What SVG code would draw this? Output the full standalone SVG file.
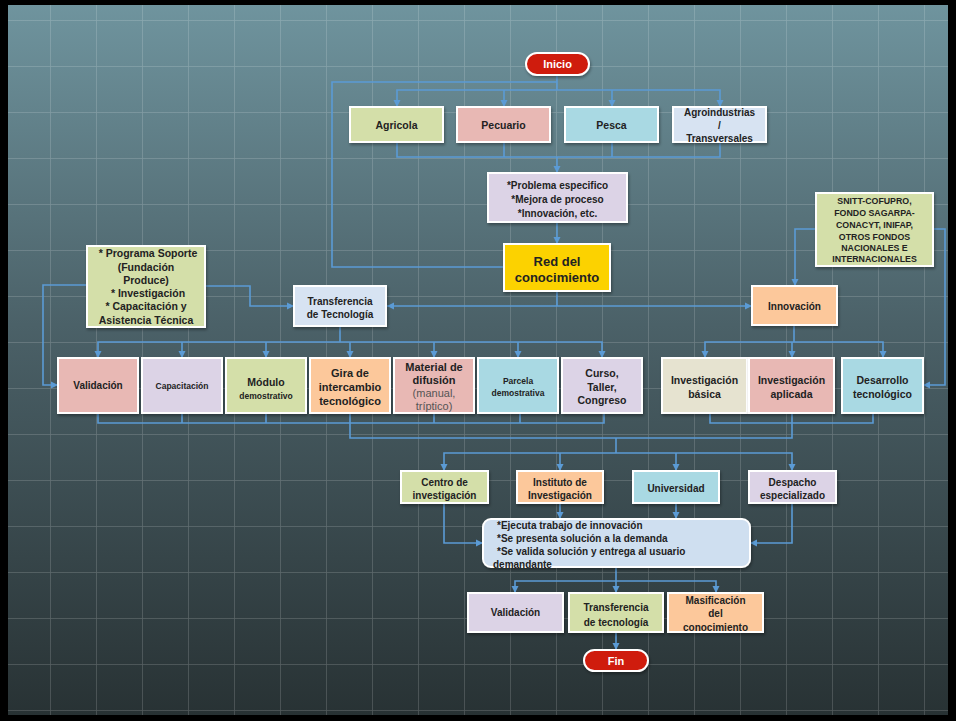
<svg xmlns="http://www.w3.org/2000/svg" width="956" height="721" viewBox="0 0 956 721">
<defs>
<linearGradient id="bg" x1="0" y1="0" x2="0" y2="1">
<stop offset="0" stop-color="#6f949e"/>
<stop offset="0.45" stop-color="#4b6168"/>
<stop offset="1" stop-color="#283234"/>
</linearGradient>
<pattern id="grid" x="4" y="20" width="46" height="46" patternUnits="userSpaceOnUse">
<path d="M0,0 H46 M0,0 V46" fill="none" stroke="#ffffff" stroke-opacity="0.2" stroke-width="1.5"/>
</pattern>
<marker id="arr" markerWidth="8" markerHeight="8" refX="7" refY="4" orient="auto" markerUnits="userSpaceOnUse">
<path d="M0,0.5 L7,4 L0,7.5 z" fill="#5b9bd5"/>
</marker>
<filter id="sh" x="-10%" y="-10%" width="130%" height="140%">
<feDropShadow dx="1" dy="2" stdDeviation="1.5" flood-color="#000" flood-opacity="0.35"/>
</filter>
</defs>
<style>
.box{stroke:#ffffff;stroke-width:2;filter:url(#sh)}
.t{font-family:"Liberation Sans",Arial,sans-serif;font-weight:bold;fill:#222;text-anchor:middle}
.r{font-weight:normal;fill:#555}
.w{fill:#ffffff}
.c{fill:none;stroke:#5b9bd5;stroke-width:1.6}
.a{marker-end:url(#arr)}
.green{fill:#d4dfa9}.pink{fill:#e8b8b4}.cyan{fill:#a9d9e3}.lav{fill:#dcd3e6}.blue{fill:#d7e3f2}.peach{fill:#fcc89b}.beige{fill:#e6e3d0}.gold{fill:#fcd200}.red{fill:#cf1a0f}
</style>
<rect x="0" y="0" width="956" height="721" fill="#000"/>
<rect x="8" y="5" width="940" height="710" fill="url(#bg)"/>
<rect x="8" y="5" width="940" height="710" fill="url(#grid)"/>

<g id="connectors">
<path class="c" d="M557,75 V90"/>
<path class="c" d="M504,267 H332 V82 H557"/>
<path class="c a" d="M557,90 H397 V107"/>
<path class="c a" d="M557,90 H720 V107"/>
<path class="c a" d="M504,90 V107"/>
<path class="c a" d="M612,90 V107"/>
<path class="c" d="M397,141 V157 H720 V141 M504,141 V157 M612,141 V157"/>
<path class="c a" d="M557,157 V173"/>
<path class="c a" d="M557,222 V244"/>
<path class="c" d="M557,291 V306"/>
<path class="c a" d="M557,306 H387"/>
<path class="c a" d="M557,306 H752"/>
<path class="c a" d="M205,286 H250 V306 H294"/>
<path class="c a" d="M87,285 H43 V385 H58"/>
<path class="c" d="M340,326 V342"/>
<path class="c a" d="M340,342 H98 V358"/>
<path class="c a" d="M340,342 H602 V358"/>
<path class="c a" d="M182,342 V358"/>
<path class="c a" d="M266,342 V358"/>
<path class="c a" d="M350,342 V358"/>
<path class="c a" d="M434,342 V358"/>
<path class="c a" d="M518,342 V358"/>
<path class="c a" d="M816,229 H795 V286"/>
<path class="c a" d="M933,229 H945 V385 H923"/>
<path class="c" d="M794,325 V342"/>
<path class="c a" d="M794,342 H705 V358"/>
<path class="c a" d="M794,342 H883 V358"/>
<path class="c a" d="M792,342 V358"/>
<path class="c" d="M98,413 V423 H604 V413 M182,413 V423 M266,413 V423 M434,413 V423 M520,413 V423"/>
<path class="c" d="M350,413 V438 H792 V413"/>
<path class="c" d="M710,413 V423 H873 V413"/>
<path class="c" d="M616,438 V453"/>
<path class="c a" d="M616,453 H444 V471"/>
<path class="c a" d="M616,453 H792 V471"/>
<path class="c a" d="M560,453 V471"/>
<path class="c a" d="M676,453 V471"/>
<path class="c a" d="M444,503 V543 H483"/>
<path class="c a" d="M560,503 V519"/>
<path class="c a" d="M676,503 V519"/>
<path class="c a" d="M792,503 V543 H750"/>
<path class="c" d="M616,567 V581"/>
<path class="c a" d="M616,581 H515 V593"/>
<path class="c a" d="M616,581 H716 V593"/>
<path class="c a" d="M616,581 V593"/>
<path class="c a" d="M616,632 V650"/>
</g>

<g id="inicio"><rect class="box red" x="526" y="53" width="63" height="22" rx="11"/><text class="t w" x="557.5" y="67.5" font-size="11">Inicio</text></g>

<g id="agricola"><rect class="box green" x="350" y="107" width="93" height="35"/><text class="t" x="396.5" y="128.5" font-size="10.5">Agricola</text></g>
<g id="pecuario"><rect class="box pink" x="457" y="107" width="93" height="35"/><text class="t" x="503.5" y="128.5" font-size="10.5">Pecuario</text></g>
<g id="pesca"><rect class="box cyan" x="565" y="107" width="93" height="35"/><text class="t" x="611.5" y="128.5" font-size="10.5">Pesca</text></g>
<g id="agroindustrias"><rect class="box blue" x="673" y="107" width="93" height="35"/><text class="t" x="719.5" font-size="10"><tspan x="719.5" y="115.5">Agroindustrias</tspan><tspan x="719.5" y="128.5">/</tspan><tspan x="719.5" y="141.5">Transversales</tspan></text></g>

<g id="problema"><rect class="box lav" x="488" y="173" width="139" height="49"/><text class="t" font-size="10"><tspan x="557.5" y="188.5">*Problema especifico</tspan><tspan x="557.5" y="203">*Mejora de proceso</tspan><tspan x="557.5" y="216.5">*Innovación, etc.</tspan></text></g>

<g id="red"><rect class="box gold" x="504" y="244" width="106" height="47"/><text class="t" font-size="13"><tspan x="557" y="265.5">Red del</tspan><tspan x="557" y="281.5">conocimiento</tspan></text></g>

<g id="programa"><rect class="box green" x="87" y="246" width="118" height="81"/><text class="t" font-size="10.5"><tspan x="148" y="257">* Programa Soporte</tspan><tspan x="146" y="270.5">(Fundación</tspan><tspan x="146" y="283.5">Produce)</tspan><tspan x="148" y="297">* Investigación</tspan><tspan x="146" y="310">* Capacitación y</tspan><tspan x="146" y="324">Asistencia Técnica</tspan></text></g>

<g id="transferencia"><rect class="box blue" x="294" y="286" width="92" height="40"/><text class="t" font-size="10"><tspan x="340" y="304.5">Transferencia</tspan><tspan x="340" y="317.5">de Tecnología</tspan></text></g>

<g id="snitt"><rect class="box green" x="816" y="193" width="117" height="73"/><text class="t" font-size="8.8" fill="#333"><tspan x="874.5" y="204">SNITT-COFUPRO,</tspan><tspan x="874.5" y="216">FONDO SAGARPA-</tspan><tspan x="874.5" y="228">CONACYT, INIFAP,</tspan><tspan x="874.5" y="239.5">OTROS FONDOS</tspan><tspan x="874.5" y="251">NACIONALES E</tspan><tspan x="874.5" y="262">INTERNACIONALES</tspan></text></g>

<g id="innovacion"><rect class="box peach" x="752" y="286" width="85" height="39"/><text class="t" x="794.5" y="309.5" font-size="10">Innovación</text></g>

<g id="validacion"><rect class="box pink" x="58" y="358" width="80" height="55"/><text class="t" x="98" y="389" font-size="10">Validación</text></g>
<g id="capacitacion"><rect class="box lav" x="142" y="358" width="80" height="55"/><text class="t" x="182" y="388.5" font-size="8.5">Capacitación</text></g>
<g id="modulo"><rect class="box green" x="226" y="358" width="80" height="55"/><text class="t"><tspan x="266" y="385.5" font-size="10.5">Módulo</tspan><tspan x="266" y="399" font-size="8.5">demostrativo</tspan></text></g>
<g id="gira"><rect class="box peach" x="310" y="358" width="80" height="55"/><text class="t" font-size="11"><tspan x="350" y="377">Gira de</tspan><tspan x="350" y="391">intercambio</tspan><tspan x="350" y="405">tecnológico</tspan></text></g>
<g id="material"><rect class="box pink" x="394" y="358" width="80" height="55"/><text class="t" font-size="11"><tspan x="434" y="371">Material de</tspan><tspan x="434" y="384">difusión</tspan><tspan class="r" x="434" y="397">(manual,</tspan><tspan class="r" x="434" y="410">tríptico)</tspan></text></g>
<g id="parcela"><rect class="box cyan" x="478" y="358" width="80" height="55"/><text class="t" font-size="8.5"><tspan x="518" y="384">Parcela</tspan><tspan x="518" y="396">demostrativa</tspan></text></g>
<g id="curso"><rect class="box lav" x="562" y="358" width="80" height="55"/><text class="t" font-size="10.5"><tspan x="602" y="377">Curso,</tspan><tspan x="602" y="391">Taller,</tspan><tspan x="602" y="404">Congreso</tspan></text></g>

<g id="inv-basica"><rect class="box beige" x="662" y="358" width="85" height="55"/><text class="t" font-size="10.5"><tspan x="704.5" y="384">Investigación</tspan><tspan x="704.5" y="398">básica</tspan></text></g>
<g id="inv-aplicada"><rect class="box pink" x="749" y="358" width="85" height="55"/><text class="t" font-size="10.5"><tspan x="791.5" y="384">Investigación</tspan><tspan x="791.5" y="398">aplicada</tspan></text></g>
<g id="desarrollo"><rect class="box cyan" x="842" y="358" width="81" height="55"/><text class="t" font-size="10.5"><tspan x="882.5" y="384">Desarrollo</tspan><tspan x="882.5" y="398">tecnológico</tspan></text></g>

<g id="centro"><rect class="box green" x="401" y="471" width="87" height="32"/><text class="t" font-size="10"><tspan x="444.5" y="485.5">Centro de</tspan><tspan x="444.5" y="498.5">investigación</tspan></text></g>
<g id="instituto"><rect class="box peach" x="517" y="471" width="86" height="32"/><text class="t" font-size="10"><tspan x="560" y="485.5">Instituto de</tspan><tspan x="560" y="498.5">Investigación</tspan></text></g>
<g id="universidad"><rect class="box cyan" x="633" y="471" width="86" height="32"/><text class="t" x="676" y="491.5" font-size="10">Universidad</text></g>
<g id="despacho"><rect class="box lav" x="749" y="471" width="87" height="32"/><text class="t" font-size="10"><tspan x="792.5" y="485.5">Despacho</tspan><tspan x="792.5" y="498.5">especializado</tspan></text></g>

<g id="ejecuta"><rect class="box" x="483" y="519" width="267" height="48" rx="8" fill="#cfdff0"/><text class="t" font-size="10" text-anchor="start" style="text-anchor:start"><tspan x="497" y="528.5">*Ejecuta trabajo de innovación</tspan><tspan x="497" y="541.5">*Se presenta solución a la demanda</tspan><tspan x="497" y="554.5">*Se valida solución y entrega al usuario</tspan><tspan x="493" y="567.5">demandante</tspan></text></g>

<g id="validacion2"><rect class="box lav" x="468" y="593" width="95" height="39"/><text class="t" x="515.5" y="615.5" font-size="10">Validación</text></g>
<g id="transferencia2"><rect class="box green" x="569" y="593" width="94" height="39"/><text class="t" font-size="10"><tspan x="616" y="610.5">Transferencia</tspan><tspan x="616" y="625.5">de tecnología</tspan></text></g>
<g id="masificacion"><rect class="box peach" x="668" y="593" width="95" height="39"/><text class="t" font-size="10"><tspan x="715.5" y="603.5">Masificación</tspan><tspan x="715.5" y="616.5">del</tspan><tspan x="715.5" y="630.5">conocimiento</tspan></text></g>

<g id="fin"><rect class="box red" x="584" y="650" width="64" height="21" rx="10.5"/><text class="t w" x="616" y="664.5" font-size="11">Fin</text></g>
</svg>
